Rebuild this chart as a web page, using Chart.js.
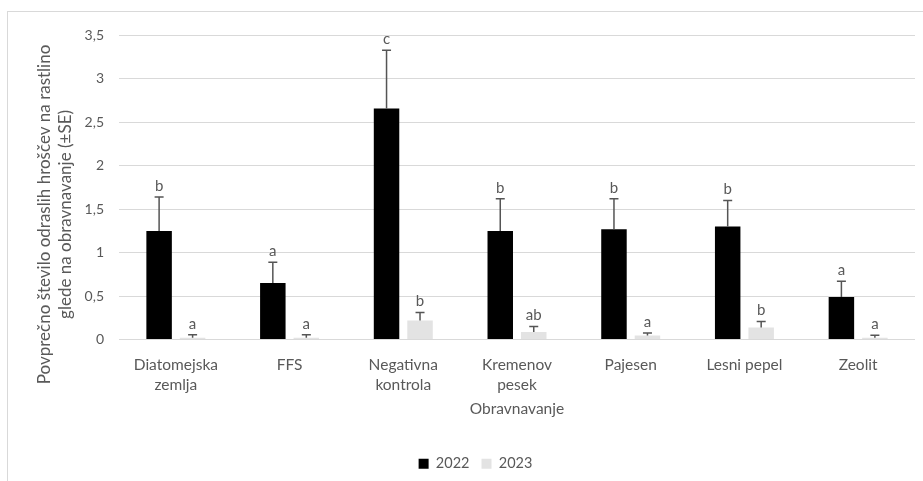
<!DOCTYPE html>
<html lang="sl">
<head>
<meta charset="utf-8">
<title>Povprečno število odraslih hroščev</title>
<script src="https://cdn.jsdelivr.net/npm/chart.js@4.4.1/dist/chart.umd.min.js"></script>
<style>
    html, body { margin: 0; padding: 0; background: #ffffff; overflow: hidden; }
    #okvir { position: absolute; left: 7px; top: 11px; width: 935px; height: 480px; border: 1px solid #d9d9d9; }
    #graf { display: block; }
</style>
</head>
<body>
<div id="okvir"><canvas id="graf" width="935" height="469"></canvas></div>
<script>
// ==========================================================================
// PODATKI (odčitano s slike)
// ==========================================================================
const obravnavanja = [["Diatomejska", "zemlja"], "FFS", ["Negativna", "kontrola"], ["Kremenov", "pesek"], "Pajesen", "Lesni pepel", "Zeolit"];
const leta = ["2022", "2023"];

const povprecje2022 = [1.25, 0.65, 2.66, 1.25, 1.27, 1.30, 0.49];
const se2022 = [0.39, 0.24, 0.67, 0.37, 0.35, 0.30, 0.18];
const crke2022 = ["b", "a", "c", "b", "b", "b", "a"];

const povprecje2023 = [0.02, 0.02, 0.22, 0.085, 0.045, 0.137, 0.02];
const se2023 = [0.035, 0.035, 0.09, 0.065, 0.03, 0.07, 0.03];
const crke2023 = ["a", "a", "b", "ab", "a", "b", "a"];

const yOznake = ["0", "0,5", "1", "1,5", "2", "2,5", "3", "3,5"];

const naslovY = ["Povprečno število odraslih hroščev na rastlino", "glede na obravnavanje (±SE)"];
const naslovX = "Obravnavanje";

const SIVA = "#595959";
const PISAVA = "Lato, 'Open Sans', sans-serif";

// ==========================================================================
// VTIČNIK: napake (±SE) in črke nad stolpci
// ==========================================================================
const napakeVticnik = {
    id: "napake",
    afterDatasetsDraw(chart) {
        const ctx = chart.ctx;
        const y = chart.scales.y;
        chart.data.datasets.forEach((ds, d) => {
            const meta = chart.getDatasetMeta(d);
            meta.data.forEach((stolpec, i) => {
                const vrh = y.getPixelForValue(ds.data[i] + ds.napake[i]);
                ctx.save();
                ctx.strokeStyle = "#555555";
                ctx.lineWidth = 1.5;
                ctx.beginPath();
                ctx.moveTo(stolpec.x, stolpec.y);
                ctx.lineTo(stolpec.x, vrh);
                ctx.moveTo(stolpec.x - 4.5, vrh);
                ctx.lineTo(stolpec.x + 4.5, vrh);
                ctx.stroke();

                ctx.fillStyle = SIVA;
                ctx.font = "15px " + PISAVA;
                ctx.textAlign = "center";
                ctx.textBaseline = "middle";
                ctx.fillText(ds.crke[i], stolpec.x, vrh - 11);
                ctx.restore();
            });
        });
    }
};

// naslov osi Y (v Excelu je malo nižje od sredine osi)
const naslovYVticnik = {
    id: "naslovY",
    afterDraw(chart) {
        const ctx = chart.ctx;
        const a = chart.chartArea;
        const sredina = (a.top + a.bottom) / 2 + 27;
        ctx.save();
        ctx.fillStyle = SIVA;
        ctx.font = "17px " + PISAVA;
        ctx.textAlign = "center";
        ctx.textBaseline = "middle";
        ctx.translate(a.left - 74, sredina);
        ctx.rotate(-Math.PI / 2);
        ctx.fillText(naslovY[0], 0, 0);
        ctx.fillText(naslovY[1], 0, 20.5);
        ctx.restore();
    }
};

document.addEventListener("DOMContentLoaded", function () {
    const ctx = document.getElementById("graf").getContext("2d");
    new Chart(ctx, {
        type: "bar",
        data: {
            labels: obravnavanja,
            datasets: [
                {
                    label: leta[0],
                    data: povprecje2022,
                    napake: se2022,
                    crke: crke2022,
                    backgroundColor: "#000000",
                    borderWidth: 0
                },
                {
                    label: leta[1],
                    data: povprecje2023,
                    napake: se2023,
                    crke: crke2023,
                    backgroundColor: "#e3e3e3",
                    borderWidth: 0
                }
            ]
        },
        options: {
            responsive: false,
            animation: false,
            devicePixelRatio: 1,
            categoryPercentage: 0.589,
            barPercentage: 0.761,
            // levi in desni odmik enaka, da je legenda na sredini okvirja
            layout: { padding: { top: 20, right: 28, bottom: 0, left: 28 } },
            plugins: {
                tooltip: { enabled: false },
                legend: {
                    position: "bottom",
                    labels: {
                        boxWidth: 10,
                        boxHeight: 10,
                        padding: 12,
                        color: SIVA,
                        font: { family: PISAVA, size: 14.5 }
                    }
                }
            },
            scales: {
                x: {
                    grid: { display: false, drawTicks: false },
                    border: { display: false },
                    ticks: {
                        color: SIVA,
                        padding: 15,
                        maxRotation: 0,
                        autoSkip: false,
                        font: { family: PISAVA, size: 15.5, lineHeight: 1.3 }
                    },
                    title: {
                        display: true,
                        text: naslovX,
                        color: SIVA,
                        padding: { top: 0, bottom: 26 },
                        font: { family: PISAVA, size: 15.5 }
                    },
                    afterFit: function (scale) { scale.height = 105; }
                },
                y: {
                    min: 0,
                    max: 3.5,
                    grid: { color: "#d9d9d9", lineWidth: 1, drawTicks: false },
                    border: { display: false },
                    ticks: {
                        stepSize: 0.5,
                        padding: 15,
                        color: SIVA,
                        font: { family: PISAVA, size: 14 },
                        callback: function (v, i) { return yOznake[i]; }
                    },
                    afterFit: function (scale) { scale.width = 83; }
                }
            }
        },
        plugins: [napakeVticnik, naslovYVticnik]
    });
});
</script>
</body>
</html>
